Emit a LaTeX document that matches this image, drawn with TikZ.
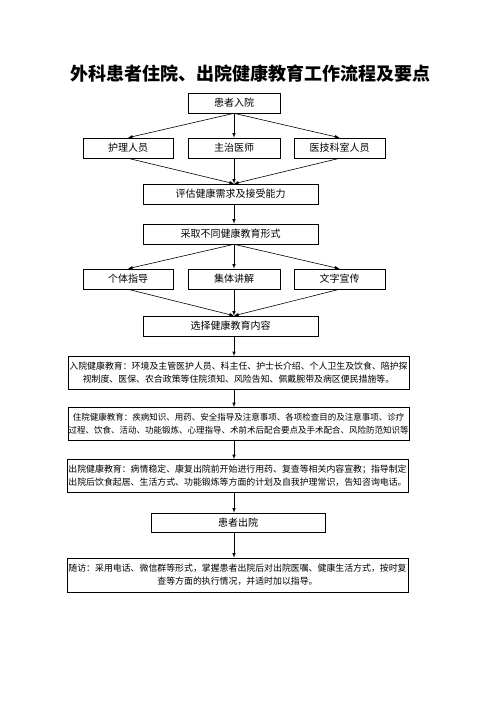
\documentclass[tikz,border=0pt]{standalone}
\usepackage{fontspec}
\setmainfont{Noto Sans CJK SC}
\usepackage{tikz}
\usetikzlibrary{positioning}
\usetikzlibrary{calc}

\begin{document}
\begin{tikzpicture}[x=1pt,y=-1pt,
  box/.style={shape=rectangle,draw,line width=0.6pt,inner sep=0pt,minimum height=20pt,font=\fontsize{10}{12}\selectfont},
  longbox/.style={shape=rectangle,draw,line width=0.6pt,inner sep=0pt,minimum width=341pt,minimum height=33pt,align=center,font=\fontsize{8.9}{13}\selectfont},
  flow/.style={-latex,line width=0.6pt}]
\useasboundingbox (0,0) rectangle (500,708);
\path
(250,74) node [font=\fontsize{18}{20}\selectfont\bfseries](title) {外科患者住院、出院健康教育工作流程及要点}
(234,103) node [box,minimum width=92pt](in) {患者入院}
(128,148) node [box,minimum width=90pt](hl) {护理人员}
(234,148) node [box,minimum width=92pt](zz) {主治医师}
(339.5,148) node [box,minimum width=91pt](yj) {医技科室人员}
(230.5,194) node [box,minimum width=175pt](pg) {评估健康需求及接受能力}
(230.5,234) node [box,minimum width=175pt](cq) {采取不同健康教育形式}
(128,279) node [box,minimum width=90pt](gt) {个体指导}
(234,279) node [box,minimum width=92pt](jt) {集体讲解}
(339.5,279) node [box,minimum width=91pt](wz) {文字宣传}
(230.5,326) node [box,minimum width=175pt](xz) {选择健康教育内容}
(238.5,373) node [longbox](ry) {入院健康教育：环境及主管医护人员、科主任、护士长介绍、个人卫生及饮食、陪护探\\视制度、医保、农合政策等住院须知、风险告知、佩戴腕带及病区便民措施等。}
(238.5,424) node [longbox,font=\fontsize{8.5}{13}\selectfont](zy) {住院健康教育：疾病知识、用药、安全指导及注意事项、各项检查目的及注意事项、诊疗\\过程、饮食、活动、功能锻炼、心理指导、术前术后配合要点及手术配合、风险防范知识等}
(237.5,476) node [longbox](cy) {出院健康教育：病情稳定、康复出院前开始进行用药、复查等相关内容宣教；指导制定\\出院后饮食起居、生活方式、功能锻炼等方面的计划及自我护理常识，告知咨询电话。}
(238,522.5) node [box,minimum width=174pt,minimum height=19pt](hc) {患者出院}
(237.5,575) node [longbox,minimum height=34pt](sf) {随访：采用电话、微信群等形式，掌握患者出院后对出院医嘱、健康生活方式，按时复\\查等方面的执行情况，并适时加以指导。};
% admission to staff
\draw [flow](in.south) --(hl.north);
\draw [flow](in.south) --(zz.north);
\draw [flow](in.south) --(yj.north);
% staff to assessment
\draw [flow](hl.south) --(pg.north -| in.south);
\draw [flow](zz.south) --(pg.north -| in.south);
\draw [flow](yj.south) --(pg.north -| in.south);
\draw [flow](pg.south -| in.south) --(cq.north -| in.south);
% forms
\draw [flow](cq.south -| in.south) --(gt.north);
\draw [flow](cq.south -| in.south) --(jt.north);
\draw [flow](cq.south -| in.south) --(wz.north);
\draw [flow](gt.south) --(xz.north -| in.south);
\draw [flow](jt.south) --(xz.north -| in.south);
\draw [flow](wz.south) --(xz.north -| in.south);
% contents
\draw [flow](xz.south -| in.south) --(ry.north -| in.south);
\draw [flow](ry.south -| in.south) --(zy.north -| in.south);
\draw [flow](zy.south -| in.south) --(cy.north -| in.south);
\draw [flow](cy.south -| in.south) --(hc.north -| in.south);
\draw [flow](hc.south -| in.south) --(sf.north -| in.south);
\end{tikzpicture}
\end{document}
